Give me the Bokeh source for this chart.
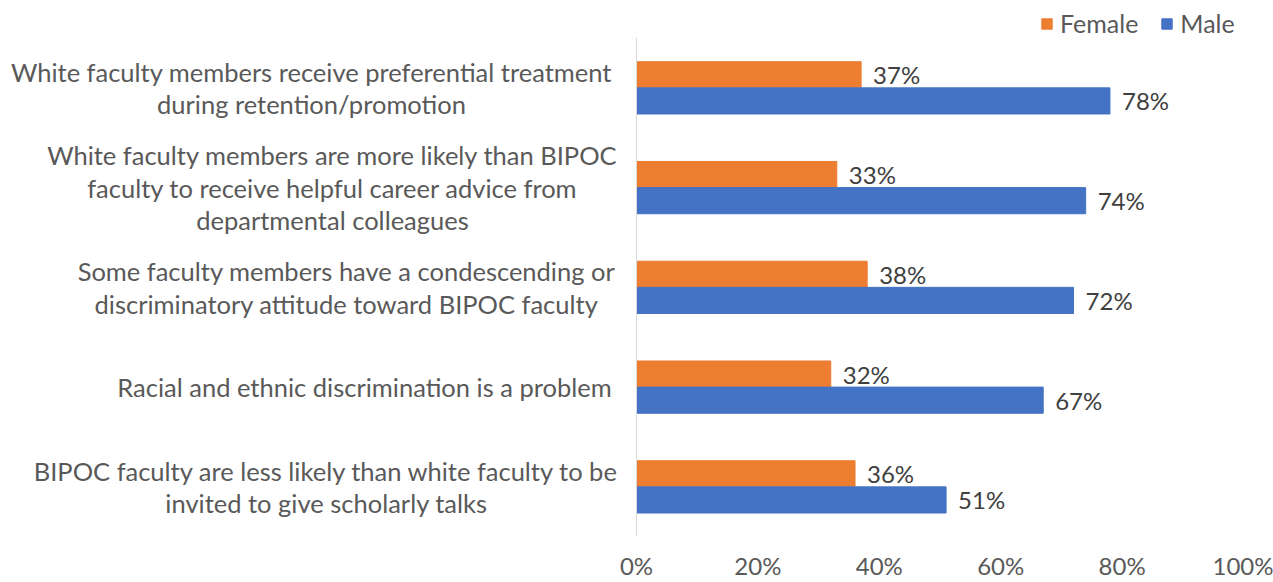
from bokeh.plotting import figure
from bokeh.models import (Range1d, ColumnDataSource, FixedTicker,
                          PrintfTickFormatter, Legend, LegendItem)
from bokeh.core.properties import value
from bokeh.embed import file_html
from bokeh.resources import INLINE

# ---------------- data ----------------
categories = [
    "White faculty members receive preferential treatment\nduring retention/promotion",
    "White faculty members are more likely than BIPOC\nfaculty to receive helpful career advice from\ndepartmental colleagues",
    "Some faculty members have a condescending or\ndiscriminatory attitude toward BIPOC faculty",
    "Racial and ethnic discrimination is a problem",
    "BIPOC faculty are less likely than white faculty to be\ninvited to give scholarly talks",
]
female = [37, 33, 38, 32, 36]
male = [78, 74, 72, 67, 51]
x_ticks = [0, 20, 40, 60, 80, 100]
series_names = ["Female", "Male"]

# ---------------- layout / style ----------------
W, H = 1273, 582
zero_px = 636          # canvas x of 0%
px_per_pct = 6.07      # pixels per percentage point
right_border = 28
frame_bottom_px = 540
first_center_px = 88   # centre of first category row
row_px = 100.5         # height of one category row
label_center_px = [311, 332, 346, 364, 326]   # horizontal centre of each category label block
FONT = "Lato"
ORANGE = "#ED7D31"
BLUE = "#4472C4"
GRAY = "#595959"
DARK = "#404040"

n = len(categories)
idx = list(range(n))
bh = 0.262

src = ColumnDataSource(dict(
    cat=categories,
    yf=[i - bh / 2 for i in idx],
    ym=[i + bh / 2 for i in idx],
    yc=idx,
    female=female,
    male=male,
    flab=[f"{v}%" for v in female],
    mlab=[f"{v}%" for v in male],
    lx=[(c - zero_px) / px_per_pct for c in label_center_px],
))

y_top = -first_center_px / row_px
y_bottom = (frame_bottom_px - first_center_px) / row_px

p = figure(
    width=W, height=H,
    y_range=Range1d(y_bottom, y_top),
    x_range=Range1d(-zero_px / px_per_pct, (W - right_border - zero_px) / px_per_pct),
    output_backend="svg", toolbar_location=None,
    y_axis_location=None,
    min_border_left=0, min_border_right=right_border, min_border_top=0,
    min_border_bottom=H - frame_bottom_px,
)
p.outline_line_color = None
p.grid.visible = False
p.background_fill_color = "white"
p.border_fill_color = "white"

rf = p.hbar(y="yf", right="female", left=0, height=bh, color=ORANGE, source=src)
rm = p.hbar(y="ym", right="male", left=0, height=bh, color=BLUE, source=src)

# vertical category axis line
p.segment(x0=[0], y0=[-0.5], x1=[0], y1=[n - 0.5], line_color="#d9d9d9", line_width=1)

p.text(x="female", y="yf", text="flab", source=src,
       x_offset=12, text_align="left", text_baseline="middle",
       text_font=value(FONT), text_font_size="24px", text_color=DARK)
p.text(x="male", y="ym", text="mlab", source=src,
       x_offset=12, text_align="left", text_baseline="middle",
       text_font=value(FONT), text_font_size="24px", text_color=DARK)

p.text(x="lx", y="yc", text="cat", source=src,
       text_align="center", text_baseline="middle", text_line_height=1.08,
       text_font=value(FONT), text_font_size="25.5px", text_color=GRAY)

ax = p.xaxis[0]
ax.ticker = FixedTicker(ticks=x_ticks)
ax.formatter = PrintfTickFormatter(format="%d%%")
ax.axis_line_color = None
ax.major_tick_line_color = None
ax.minor_tick_line_color = None
ax.major_tick_out = 0
ax.major_tick_in = 0
ax.major_label_standoff = 14
ax.major_label_text_font = FONT
ax.major_label_text_font_size = "24px"
ax.major_label_text_color = GRAY

legend = Legend(
    items=[LegendItem(label=series_names[0], renderers=[rf]),
           LegendItem(label=series_names[1], renderers=[rm])],
    orientation="horizontal", location=(1040, 498),
    glyph_width=13, glyph_height=13, label_standoff=7, spacing=22,
    padding=0, margin=0, border_line_color=None, background_fill_alpha=0,
    label_text_font=FONT, label_text_font_size="25px", label_text_color=GRAY,
)
p.add_layout(legend)

open("out.html", "w").write(file_html(p, INLINE))
